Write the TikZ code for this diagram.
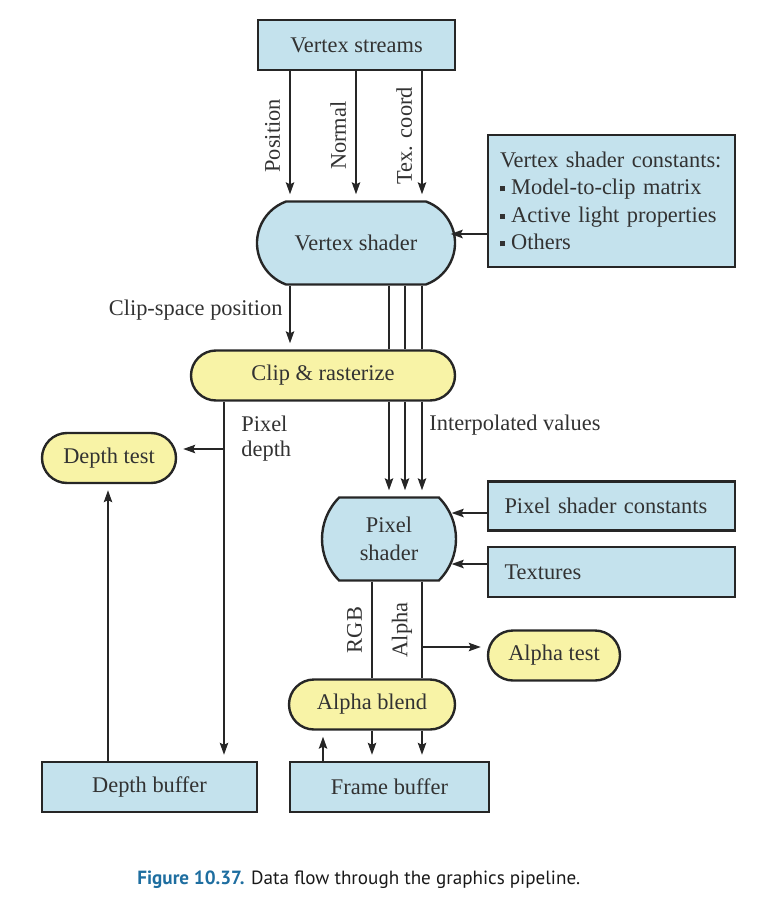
\documentclass[tikz,border=0pt]{standalone}
\usepackage{fontspec}
\setmainfont{Liberation Serif}
\newfontfamily\capfont{PT Sans}
\usetikzlibrary{arrows.meta,shapes.misc}
\definecolor{boxblue}{RGB}{196,226,237}
\definecolor{boxyellow}{RGB}{248,243,166}
\definecolor{capblue}{RGB}{30,110,160}
\definecolor{txtgray}{RGB}{50,50,50}
\newcommand\sqb{\raisebox{.35ex}{\rule{2.6pt}{2.6pt}}\hspace{3pt}}
\begin{document}
\begin{tikzpicture}[x=.5pt,y=-.5pt,font=\fontsize{11.2}{13.75}\selectfont,
	every node/.style={text=txtgray},
	rect/.style={draw=black!85,line width=1.2pt,fill=boxblue,inner sep=0pt},
	shader/.style={rect,rounded rectangle,minimum height=41.5pt},
	pill/.style={draw=black!85,line width=1.2pt,fill=boxyellow,rounded corners=12.5pt,minimum height=25pt,inner sep=0pt},
	arr/.style={draw=black!85,line width=.9pt,-{Stealth[length=6pt,width=4.2pt,inset=1pt]},shorten >=3pt},
	arrin/.style={arr,shorten >=-2.8pt},
	wire/.style={draw=black!85,line width=.9pt},
	vlab/.style={midway,rotate=90,anchor=south,inner sep=4.5pt}]
	\useasboundingbox(0,0)rectangle(759,899);
	% columns and rows of the connectors
	\coordinate(xP)at(290,0);
	\coordinate(xN)at(356,0);
	\coordinate(xT)at(422,0);
	\coordinate(xI1)at(389,0);
	\coordinate(xI2)at(405,0);
	\coordinate(xD)at(224,0);
	\coordinate(xDt)at(108,0);
	\coordinate(xR)at(372,0);
	\coordinate(xF)at(323,0);
	\coordinate(yVc)at(0,234);
	\coordinate(yD)at(0,449);
	\coordinate(yPc)at(0,513);
	\coordinate(yTx)at(0,564);
	\coordinate(yAt)at(0,647);
	% boxes
	\node[rect,minimum width=98.5pt,minimum height=25pt](vstream)at(356.5,45){Vertex streams};
	\node[shader,rounded rectangle arc length=140,minimum width=99pt](vshader)at(356,243){Vertex shader};
	\node[rect,minimum width=123.5pt,minimum height=66pt,text width=111.5pt,align=left](vconst)at(611.5,201)
		{Vertex shader constants:\\\sqb Model-to-clip matrix\\\sqb Active light properties\\\sqb Others};
	\node[pill,minimum width=132pt](clip)at(323,375.5){Clip \& rasterize};
	\node[pill,minimum width=67pt](dtest)at(109,458){Depth test};
	\node[shader,rounded rectangle arc length=90,minimum width=67pt,align=center](pshader)at(389,539){Pixel\\shader};
	\node[rect,minimum width=123.5pt,minimum height=24.5pt,text width=107pt,align=left](pconst)at(611.5,506){Pixel shader constants};
	\node[rect,minimum width=123.5pt,minimum height=25pt,text width=107pt,align=left](textures)at(611.5,572){Textures};
	\node[pill,minimum width=66pt](atest)at(554,655.5){Alpha test};
	\node[pill,minimum width=83pt](ablend)at(372,704.5){Alpha blend};
	\node[rect,minimum width=99.5pt,minimum height=25pt](fbuf)at(389.5,787){Frame buffer};
	\node[rect,minimum width=107.5pt,minimum height=25pt](dbuf)at(149.5,787){Depth buffer};
	% vertex stage
	\foreach\c/\t in {xP/Position,xN/Normal,xT/{Tex. coord}}{%
	\draw[arr](vstream.south-|\c)--node[vlab](lbl\c){\t}(vshader.north-|\c);}
	\draw[arrin](vconst.west|-yVc)--(vshader.east|-yVc);
	\draw[arr](vshader.south-|xP)--node[pos=.38,left](cspos){Clip-space position}(clip.north-|xP);
	\foreach\c in {xI1,xI2,xT}{%
	\draw[wire](vshader.south-|\c)--(clip.north-|\c);
	\draw[arr](clip.south-|\c)--(pshader.north-|\c);}
	\node[anchor=west,inner sep=0pt](interp)at(429,425){Interpolated values};
	% depth
	\draw[arr](clip.south-|xD)--(dbuf.north-|xD);
	\draw[arr](xD|-yD)--(dtest.east|-yD);
	\node[anchor=west,align=left,inner sep=0pt](pdepth)at(241,439){Pixel\\[-1.2pt]depth};
	\draw[arr](dbuf.north-|xDt)--(dtest.south-|xDt);
	% pixel stage
	\draw[arrin](pconst.west|-yPc)--(pshader.east|-yPc);
	\draw[arrin](textures.west|-yTx)--(pshader.east|-yTx);
	\draw[wire](pshader.south-|xR)--node[vlab](lblR){RGB}(ablend.north-|xR);
	\draw[wire](pshader.south-|xT)--node[vlab](lblA){Alpha}(ablend.north-|xT);
	\draw[arr](xT|-yAt)--(atest.west|-yAt);
	\foreach\c in {xR,xT}{\draw[arr](ablend.south-|\c)--(fbuf.north-|\c);}
	\draw[arr](fbuf.north-|xF)--(ablend.south-|xF);
	% caption
	\node[anchor=base west,inner sep=0pt,text=black!90,font=\capfont\fontsize{9.55}{11}\selectfont](cap)at(137,884)
		{{\bfseries\color{capblue}Figure 10.37.} Data flow through the graphics pipeline.};
\end{tikzpicture}
\end{document}
